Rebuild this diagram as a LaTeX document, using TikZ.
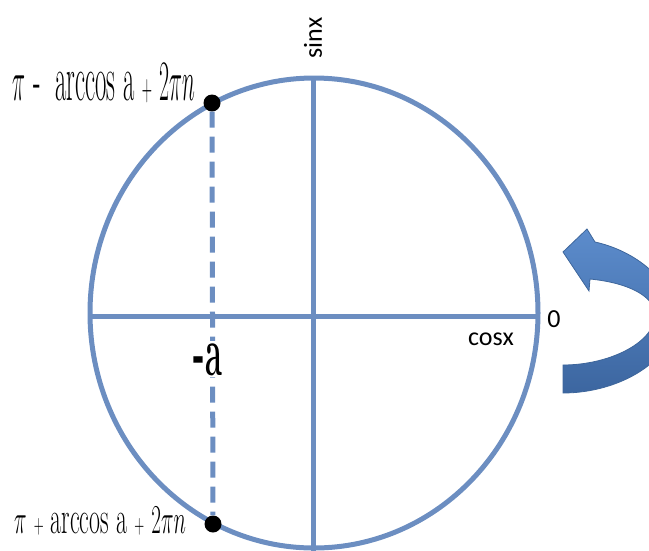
\documentclass[tikz,border=0pt]{standalone}
\usepackage{fontspec}
\usetikzlibrary{shapes.geometric}
\newfontfamily\axisfont{Carlito}
\definecolor{circblue}{RGB}{108,142,193}
\definecolor{arrowtop}{RGB}{92,140,204}
\definecolor{arrowbot}{RGB}{60,102,160}
\definecolor{arrowedge}{RGB}{62,102,155}
\newcommand{\smallplus}{\ \scalebox{0.65}{$+$}\ }
\tikzset{
  ring/.style={draw=circblue, line width=5pt},
  axisline/.style={draw=circblue, line width=5pt},
  dashline/.style={draw=circblue, line width=5pt, dash pattern=on 16pt off 9pt},
  dot/.style={circle, fill=black, inner sep=0pt, minimum size=17pt},
  biglabel/.style={inner sep=0pt, font=\fontsize{28}{30}\selectfont},
  axislabel/.style={inner sep=0pt, font=\axisfont\fontsize{26}{28}\selectfont},
}
\begin{document}
\begin{tikzpicture}[x=1pt,y=-1pt]
\useasboundingbox (0,0) rectangle (649,550);
\clip (0,0) rectangle (649,550);
% circle
\node[ring, ellipse, minimum width=448pt, minimum height=470pt, inner sep=0pt] (circ) at (314,313) {};
% axes
\coordinate (L) at (90,316);
\coordinate (R) at (538,316);
\coordinate (T) at (313,78);
\coordinate (B) at (313,552);
\draw[axisline] (L) -- (R);
\draw[axisline] (T) -- (B);
% points and dashed line
\node[dot] (p1) at (212,103) {};
\node[dot] (p2) at (213,524) {};
\draw[dashline] (p1) -- (p2);
% labels
\node[biglabel, anchor=base] (l1) at (104,100) {\scalebox{0.88}[2.3]{$\pi$ - \ arccos a\smallplus$2\pi n$}};
\node[biglabel, anchor=base] (l2) at (100,533) {\scalebox{0.85}[1.65]{$\pi$\smallplus arccos a\smallplus$2\pi n$}};
\node[biglabel, anchor=base, fill=white, inner sep=2pt] (la) at (208,375) {\scalebox{1.1}[2.5]{\textbf{-a}}};
\node[axislabel, rotate=90] (sinx) at (313,38) {sinx};
\node[axislabel, anchor=base] (cosx) at (491,345) {cosx};
\node[axislabel, anchor=base] (zero) at (554,327) {0};
% curved arrow
\shade[top color=arrowtop, bottom color=arrowbot, draw=arrowedge, line width=0.8pt]
  (563,252) -- (587,229) -- (595,242)
  .. controls (640,252) and (675,285) .. (675,318)
  .. controls (675,360) and (620,393) .. (563,393)
  -- (563,365)
  .. controls (610,365) and (655,342) .. (655,315)
  .. controls (655,297) and (630,283) .. (590,279)
  -- (589,291) -- cycle;
\end{tikzpicture}
\end{document}
